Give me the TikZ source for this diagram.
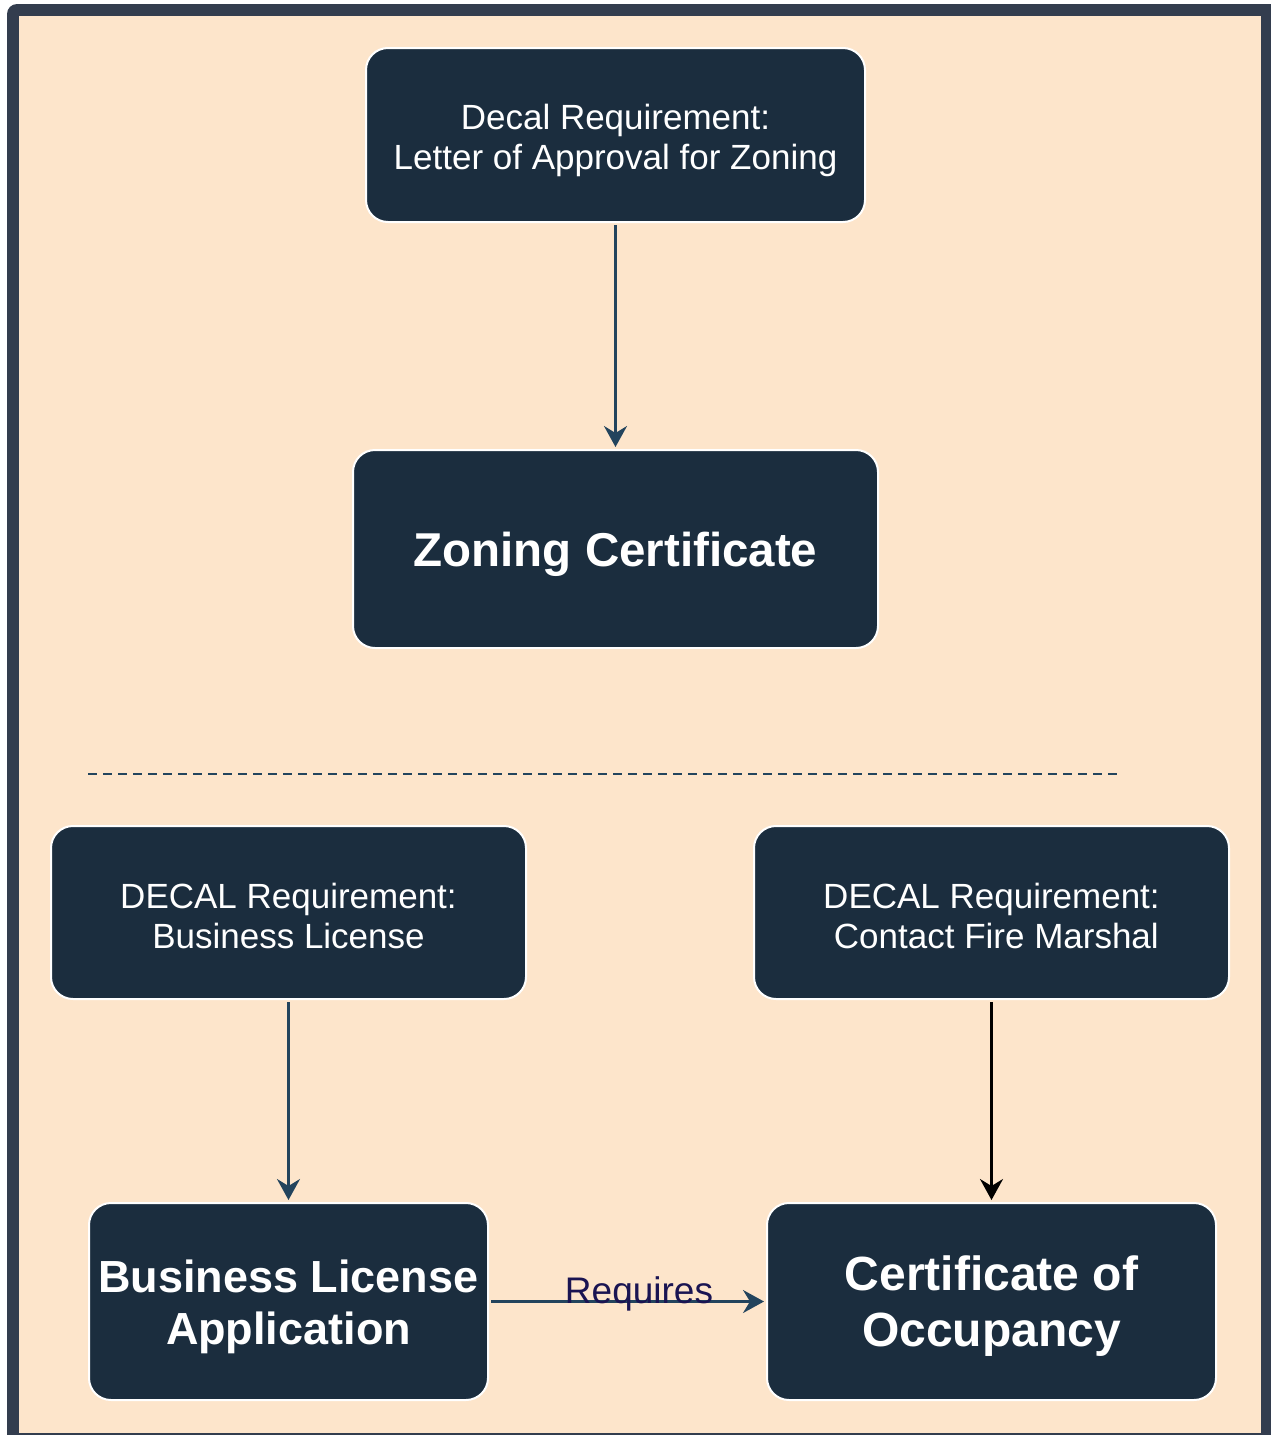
\documentclass[tikz,border=0pt]{standalone}
\usepackage{fontspec}
\setmainfont{Liberation Sans}
\usetikzlibrary{arrows.meta}
\definecolor{frame}{HTML}{333D4E}
\definecolor{peach}{HTML}{FDE5CB}
\definecolor{boxfill}{HTML}{1B2D3E}
\definecolor{edgec}{HTML}{23445D}
\definecolor{reqc}{HTML}{1A1452}
\newcommand{\pushdown}[1]{\rule{0pt}{#1}}
\tikzset{
  box/.style={draw=white, line width=2pt, fill=boxfill, rounded corners=22pt, text=white, align=center, inner sep=0pt},
  small/.style={font=\fontsize{35}{40}\selectfont},
  big/.style={font=\fontsize{45}{52}\selectfont\bfseries},
  conn/.style={draw=edgec, line width=2.5pt, -{Stealth[length=21pt,width=23pt,inset=7pt]}, shorten <=2pt, shorten >=2pt},
}
\begin{document}
\begin{tikzpicture}[x=1pt,y=-1pt]
\useasboundingbox (0,0) rectangle (1270,1435);
\fill[frame, rounded corners=10pt] (7,4) rectangle (1280,1445);
\fill[peach] (19,16) rectangle (1261,1433);
\node[box, small, minimum width=499pt, minimum height=174pt] (dz) at (615.5,135) {\pushdown{37pt}Decal Requirement:\\Letter of Approval for Zoning};
\node[box, font=\fontsize{47.5}{54}\selectfont\bfseries, minimum width=525pt, minimum height=198pt] (zc) at (615.5,549) {\pushdown{45pt}Zoning Certificate};
\draw[edgec, line width=2pt, dash pattern=on 9pt off 6pt] (88,774) -- (1118,774);
\node[box, small, minimum width=475pt, minimum height=173pt] (dbl) at (288.5,912.5) {\pushdown{32pt}DECAL Requirement:\\Business License};
\node[box, small, minimum width=475pt, minimum height=173pt] (dfm) at (991.5,912.5) {\pushdown{32pt}DECAL Requirement:\\\ Contact Fire Marshal};
\node[box, big, minimum width=399pt, minimum height=197pt] (bla) at (288.5,1301.5) {\pushdown{43pt}Business License\\Application};
\node[box, font=\fontsize{48}{56}\selectfont\bfseries, minimum width=449pt, minimum height=197pt] (coo) at (991.5,1301.5) {\pushdown{44pt}Certificate of\\Occupancy};
\draw[conn] (dz.south) -- (zc.north);
\draw[conn] (dbl.south) -- (bla.north);
\draw[conn, draw=black] (dfm.south) -- (coo.north);
\draw[conn] (bla.east) -- (coo.west);
\node[text=reqc, font=\fontsize{37}{42}\selectfont, inner sep=0pt] (req) at (639,1294) {Requires};
\end{tikzpicture}
\end{document}
